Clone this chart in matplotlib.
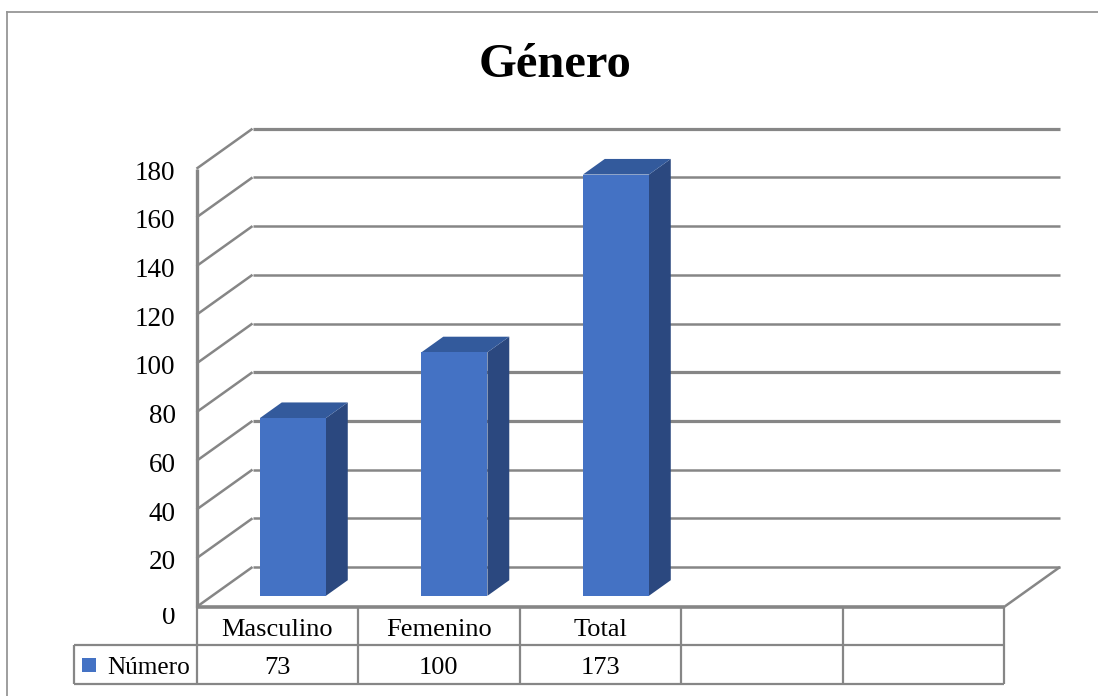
import matplotlib
matplotlib.use("Agg")
import matplotlib.pyplot as plt
from matplotlib.lines import Line2D
from matplotlib.patches import Polygon, Rectangle

categories = ["Masculino", "Femenino", "Total", "", ""]
values = [73, 100, 173, None, None]
series_name = "Número"
title = "Género"
y_ticks = [0, 20, 40, 60, 80, 100, 120, 140, 160, 180]

W, H = 1098, 696
GRAY = "#868686"
FRONT = "#4472C4"
TOP = "#335A9C"
SIDE = "#2B487F"

plt.rcParams["font.family"] = ["Liberation Serif", "DejaVu Sans"]

fig = plt.figure(figsize=(W / 100, H / 100), dpi=100, facecolor="white")
ax = fig.add_axes([196.5 / W, (H - 607) / H, 807.5 / W, 438.3 / H])
ax.set_xlim(0, len(categories))
ax.set_ylim(0, 180)
ax.axis("off")

# depth of the 3D box, in data units
depth_x = 56 / 161.5
depth_y = 40 / 2.435


def line(xs, ys, lw=1.5, z=1):
    ax.add_line(Line2D(xs, ys, color=GRAY, lw=lw, clip_on=False, zorder=z,
                       solid_capstyle="butt", solid_joinstyle="miter"))


# outer frame of the chart area
fig.add_artist(Line2D([7 / W, 7 / W], [0, 1 - 12 / H], color="#969696", lw=1.3))
fig.add_artist(Line2D([7 / W, 1], [1 - 12 / H, 1 - 12 / H], color="#969696", lw=1.3))

fig.text(555.5 / W, 1 - 65 / H, title, fontsize=35, fontweight="bold",
         ha="center", va="center", color="black")

# gridlines: diagonal on the side wall, then along the back wall
n = len(categories)
for t in y_ticks:
    lw = 2.3 if t in (60, 80, 180) else 1.8
    line([0, depth_x], [t, t + depth_y], lw=1.8)
    line([depth_x, n + depth_x], [t + depth_y, t + depth_y], lw=lw)

# floor and front edges
line([n, n + depth_x], [0, depth_y], lw=1.8)
line([0, n], [0, 0], lw=2.6, z=3)
line([0, 0], [0, 180], lw=2.4, z=3)

# bars as three visible faces
bar_w = 66 / 161.5
bar_off = 0.28
bar_depth = 0.39
for i, v in enumerate(values):
    if v is None:
        continue
    x0 = i + 0.5 - bar_w / 2 + bar_off * depth_x
    x1 = x0 + bar_w
    y0 = bar_off * depth_y
    y1 = y0 + v
    dx = bar_depth * depth_x
    dy = bar_depth * depth_y
    ax.add_patch(Polygon([(x1, y0), (x1 + dx, y0 + dy), (x1 + dx, y1 + dy), (x1, y1)],
                         fc=SIDE, ec="none", zorder=4, clip_on=False))
    ax.add_patch(Polygon([(x0, y1), (x1, y1), (x1 + dx, y1 + dy), (x0 + dx, y1 + dy)],
                         fc=TOP, ec="none", zorder=4, clip_on=False))
    ax.add_patch(Rectangle((x0, y0), bar_w, v, fc=FRONT, ec="none", zorder=5, clip_on=False))

# value axis labels; the zero sits lower and loses its top under the chart edge
px_x = 1 / 161.5
px_y = 1 / 2.435
for t in y_ticks:
    if t == 0:
        txt = ax.text(-21 * px_x, -10 * px_y, str(t), fontsize=19.5, ha="right", va="center",
                      color="black", clip_on=True)
        txt.set_clip_path(Rectangle((0, 0), W, H - 608, transform=None))
    else:
        ax.text(-21 * px_x, t - 4.5 * px_y, str(t), fontsize=19.5, ha="right", va="center",
                color="black", clip_on=False)

# data table below the plot
row1 = -38 * px_y
row2 = -77 * px_y
legend_x = -122 * px_x
for i in range(n + 1):
    line([i, i], [0, row2], lw=1.6)
line([legend_x, n], [row1, row1], lw=1.6)
line([legend_x, n], [row2, row2], lw=1.6)
line([legend_x, legend_x], [row1, row2], lw=1.6)

for i, (c, v) in enumerate(zip(categories, values)):
    ax.text(i + 0.5, row1 / 2 - 4 * px_y, c, fontsize=19, ha="center", va="center",
            clip_on=False)
    if v is not None:
        ax.text(i + 0.5, (row1 + row2) / 2 - 3 * px_y, str(v), fontsize=19, ha="center",
                va="center", clip_on=False)

ax.add_patch(Rectangle((-114 * px_x, (row1 + row2) / 2 - 7 * px_y), 14 * px_x, 14 * px_y,
                       fc=FRONT, ec="none", clip_on=False))
ax.text(-89 * px_x, (row1 + row2) / 2 - 3 * px_y, series_name, fontsize=18.2, ha="left",
        va="center", clip_on=False)

fig.savefig("out.png", dpi=100)
